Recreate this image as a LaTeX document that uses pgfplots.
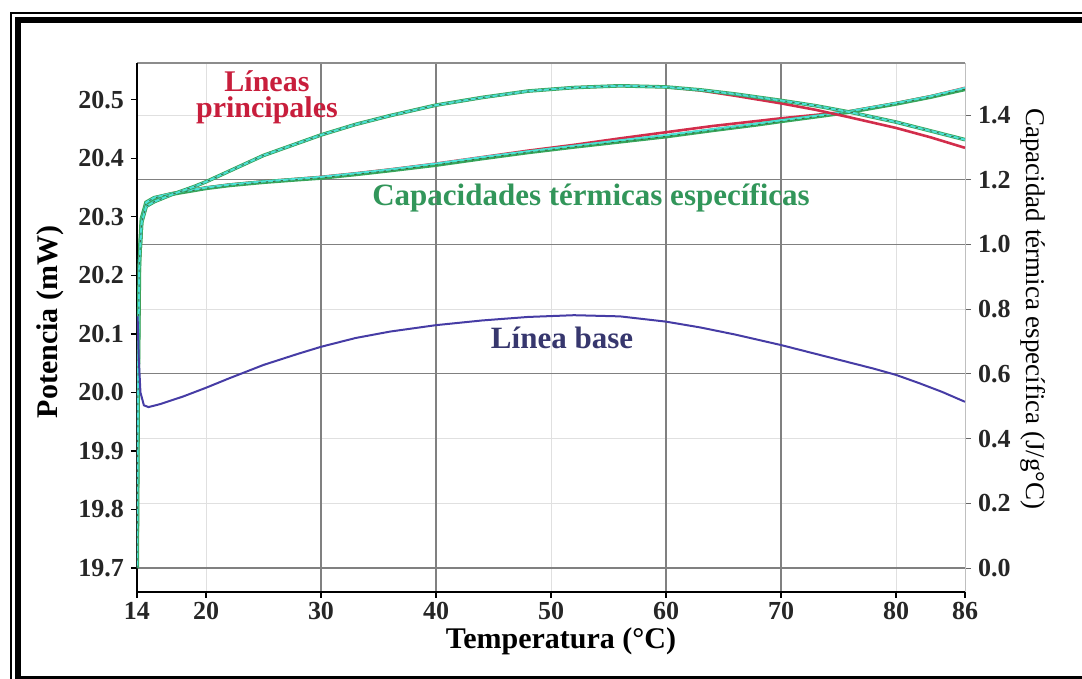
\documentclass[border=0pt]{standalone}
\usepackage{pgfplots}
\pgfplotsset{compat=1.18}
\usepackage{pgfplotstable}
\usepackage{fontspec}
\setmainfont{Liberation Serif}

\definecolor{runRed}{RGB}{210,45,75}
\definecolor{runGreen}{RGB}{55,165,90}
\definecolor{runCyan}{RGB}{75,225,215}
\definecolor{runDark}{RGB}{60,75,40}
\definecolor{baseBlue}{RGB}{70,60,165}
\definecolor{lblRed}{RGB}{200,30,60}
\definecolor{lblGreen}{RGB}{50,150,90}
\definecolor{lblNavy}{RGB}{55,55,110}

% potencia (mW), corrida roja
\pgfplotstableread{
T P
14.0 19.700
14.1 20.050
14.2 20.220
14.4 20.290
14.8 20.318
15.5 20.326
17 20.338
19 20.352
20 20.360
22 20.378
25 20.405
28 20.426
30 20.440
33 20.458
36 20.473
40 20.491
44 20.504
48 20.515
52 20.521
56 20.524
60 20.522
63 20.516
66 20.507
70 20.494
73 20.483
76 20.470
80 20.452
83 20.436
86 20.418
}\powerRed

% potencia (mW), corridas verde y cian
\pgfplotstableread{
T P
14.0 19.700
14.1 20.050
14.2 20.220
14.4 20.290
14.8 20.318
15.5 20.326
17 20.338
19 20.352
20 20.360
22 20.378
25 20.405
28 20.426
30 20.440
33 20.458
36 20.473
40 20.491
44 20.504
48 20.515
52 20.521
56 20.524
60 20.522
63 20.517
66 20.510
70 20.499
73 20.490
76 20.479
80 20.462
83 20.447
86 20.432
}\powerGreen

% linea base (mW)
\pgfplotstableread{
T P
14.05 20.130
14.15 20.060
14.3 20.000
14.6 19.978
15.0 19.975
16 19.980
18 19.993
20 20.008
22 20.024
25 20.047
28 20.066
30 20.078
33 20.093
36 20.104
40 20.115
44 20.123
48 20.129
52 20.132
56 20.130
60 20.121
63 20.111
66 20.099
70 20.081
73 20.066
76 20.051
78 20.041
80 20.030
82 20.016
84 20.001
86 19.984
}\baseline

% capacidad termica especifica (J/g C)
\pgfplotstableread{
T C
14.0 0.000
14.1 0.600
14.2 0.950
14.4 1.080
14.8 1.130
15.5 1.145
17 1.158
19 1.170
20 1.176
22 1.185
25 1.195
28 1.203
30 1.209
33 1.220
36 1.232
40 1.250
44 1.270
48 1.288
52 1.305
56 1.322
60 1.338
64 1.356
68 1.374
70 1.384
74 1.402
76 1.412
80 1.437
83 1.458
86 1.484
}\cpCyan

\pgfplotstableread{
T C
14.0 0.000
14.1 0.600
14.2 0.950
14.4 1.080
14.8 1.130
15.5 1.144
17 1.156
19 1.168
20 1.174
22 1.183
25 1.193
28 1.201
30 1.206
33 1.217
36 1.229
40 1.246
44 1.266
48 1.285
52 1.302
56 1.318
60 1.334
64 1.353
68 1.371
70 1.381
74 1.400
76 1.410
80 1.435
83 1.456
86 1.480
}\cpGreen

\pgfplotstableread{
T C
14.0 0.000
14.1 0.600
14.2 0.950
14.4 1.080
14.8 1.130
15.5 1.145
17 1.158
19 1.170
20 1.176
22 1.185
25 1.195
28 1.203
30 1.209
33 1.220
36 1.232
40 1.250
44 1.270
48 1.290
52 1.308
56 1.328
60 1.347
64 1.366
68 1.382
70 1.390
74 1.404
76 1.412
80 1.437
83 1.458
86 1.484
}\cpRed

\begin{document}
\begin{tikzpicture}
\useasboundingbox (0pt,0pt) rectangle (541pt,339.5pt);
\begin{scope}
  \clip (0pt,0pt) rectangle (541pt,339.5pt);
  \draw[line width=1pt] (5.5pt,-10pt) rectangle (560pt,333pt);
  \draw[line width=3pt] (9pt,0pt) rectangle (550pt,329.5pt);
\end{scope}

\pgfplotsset{
  frame/.style={
    at={(68.5pt,43.5pt)}, anchor=south west,
    scale only axis, width=414pt, height=264.5pt,
    xmin=14, xmax=86,
  },
  tick label style={font=\bfseries\fontsize{13}{15}\selectfont, text=black!85},
  noisy/.style={runDark, line width=0.5pt, dash pattern=on 1.2pt off 2.5pt, opacity=0.75},
}

% rejilla
\begin{axis}[frame,
  ymin=-0.074, ymax=1.561,
  axis line style={draw=none},
  xtick={20,50,80}, ytick={0.2,0.4,0.8,1.4},
  xticklabels={}, yticklabels={},
  major tick length=0pt,
  grid=major, major grid style={black!12, line width=0.5pt},
  extra x ticks={30,40,60,70}, extra y ticks={0,0.6,1.0,1.2},
  extra x tick labels={}, extra y tick labels={},
  extra tick style={grid=major, major grid style={black!50, line width=0.55pt}, major tick length=0pt},
]
\draw[black!45, line width=0.6pt] (rel axis cs:0,1) -- (rel axis cs:1,1);
\end{axis}

% eje derecho: capacidad termica
\begin{axis}[frame,
  ymin=-0.074, ymax=1.561,
  axis x line=none, axis y line*=right,
  axis line style={black!25, line width=0.5pt, -},
  ytick={0,0.2,0.4,0.6,0.8,1.0,1.2,1.4},
  yticklabels={0.0,0.2,0.4,0.6,0.8,1.0,1.2,1.4},
  tick align=outside, major tick length=3pt,
  tick style={black!60, line width=0.5pt},
]
\addplot[runRed, line width=1.3pt] table[x=T, y=C] {\cpRed};
\addplot[runGreen, line width=2.0pt] table[x=T, y=C] {\cpGreen};
\addplot[runCyan, line width=1.0pt] table[x=T, y=C] {\cpCyan};
\addplot[noisy] table[x=T, y=C] {\cpGreen};
\end{axis}

% eje izquierdo: potencia
\begin{axis}[frame,
  ymin=19.659, ymax=20.563,
  axis x line*=bottom, axis y line*=left,
  axis line style={black, line width=0.8pt, -},
  xtick={14,20,30,40,50,60,70,80,86},
  xticklabels={14,20,30,40,50,60,70,80,86},
  xticklabel style={yshift=1.5pt},
  ytick={19.7,19.8,19.9,20.0,20.1,20.2,20.3,20.4,20.5},
  yticklabels={19.7,19.8,19.9,20.0,20.1,20.2,20.3,20.4,20.5},
  tick align=outside, major tick length=3pt,
  tick style={black, line width=0.6pt},
]
\addplot[runRed, line width=1.3pt] table[x=T, y=P] {\powerRed};
\addplot[runGreen, line width=1.8pt] table[x=T, y=P] {\powerGreen};
\addplot[runCyan, line width=1.0pt] table[x=T, y=P] {\powerGreen};
\addplot[noisy] table[x=T, y=P] {\powerGreen};
\addplot[baseBlue, line width=1.0pt] table[x=T, y=P] {\baseline};

\node[inner sep=0pt, align=center, text=lblRed, font=\bfseries\fontsize{15}{13}\selectfont] at (axis cs:25.3,20.504) {Líneas\\principales};
\node[inner sep=0pt, text=lblGreen, font=\bfseries\fontsize{15.5}{17}\selectfont] at (axis cs:53.48,20.3325) {Capacidades térmicas específicas};
\node[inner sep=0pt, text=lblNavy, font=\bfseries\fontsize{15.5}{17}\selectfont] at (axis cs:50.96,20.093) {Línea base};
\end{axis}

\node[rotate=90, font=\bfseries\fontsize{15}{18}\selectfont] at (25pt,178.5pt) {Potencia (mW)};
\node[inner sep=0pt, font=\bfseries\fontsize{15}{18}\selectfont] at (280.5pt,19pt) {Temperatura (°C)};
\node[rotate=-90, font=\fontsize{13.5}{16}\selectfont] at (516.5pt,185pt) {Capacidad térmica específica (J/g°C)};
\end{tikzpicture}
\end{document}
